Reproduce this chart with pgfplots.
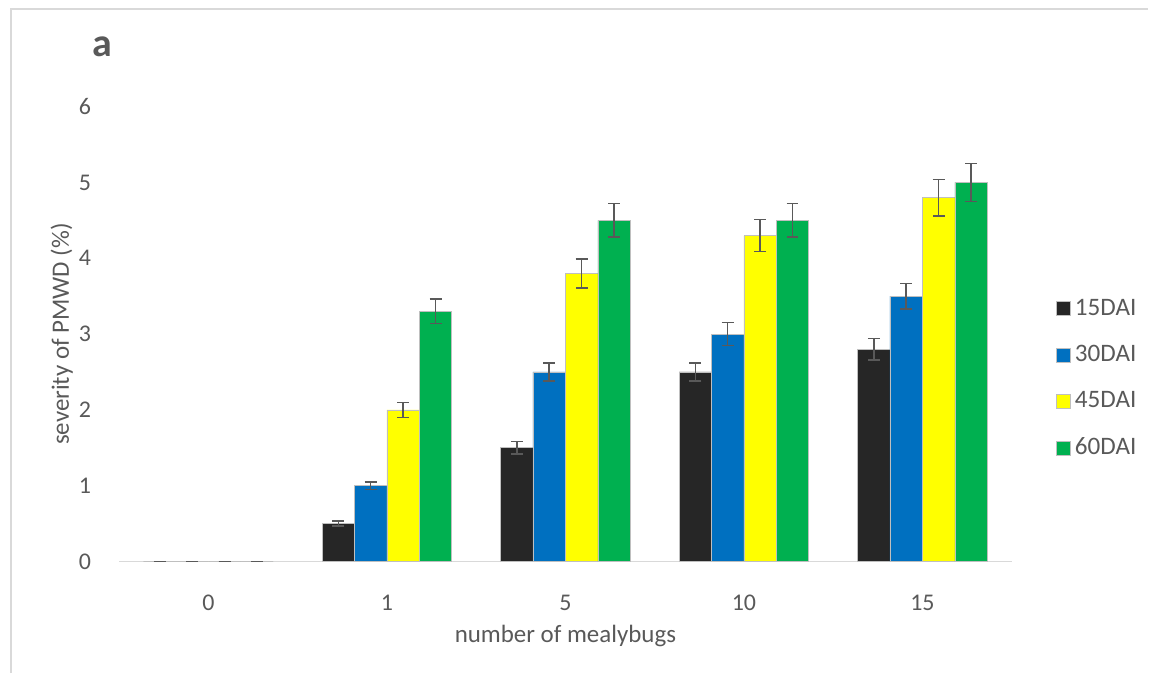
\documentclass[border=0pt]{standalone}
\usepackage{fontspec}
\setmainfont{Carlito}
\usepackage{pgfplots}
\pgfplotsset{compat=1.18}
\definecolor{txt}{HTML}{595959}
\definecolor{axl}{HTML}{D9D9D9}
\definecolor{cA}{HTML}{262626}
\definecolor{cB}{HTML}{0070C0}
\definecolor{cC}{HTML}{FFFF00}
\definecolor{cD}{HTML}{00B050}
\definecolor{errc}{HTML}{595959}
\begin{document}
\begin{tikzpicture}
\begin{axis}[
  name=ax,
  scale only axis,
  width=447.5pt, height=228pt,
  xmin=-0.5, xmax=4.5, ymin=0, ymax=6,
  ybar=0pt, bar width=16.25pt,
  xtick={0,1,2,3,4}, xticklabels={0,1,5,10,15},
  ytick={0,1,2,3,4,5,6},
  axis x line=bottom, axis y line=left,
  x axis line style={-, draw=axl, line width=0.75pt},
  y axis line style={draw=none},
  tick style={draw=none},
  font=\fontsize{12}{14}\selectfont,
  /pgf/number format/assume math mode=true,
  ticklabel style={text=txt, font=\fontsize{12}{14}\selectfont},
  xticklabel style={anchor=center, yshift=-18.5pt},
  yticklabel style={anchor=east, inner sep=0pt, xshift=-11.75pt},
  xlabel={number of mealybugs},
  ylabel={severity of PMWD (\%)},
  every axis x label/.style={at={(axis description cs:0.5,-0.165)}, anchor=center, text=txt, font=\fontsize{12.5}{14}\selectfont},
  every axis y label/.style={at={(axis description cs:-0.0642,0.5)}, rotate=90, anchor=center, text=txt, font=\fontsize{12.5}{14}\selectfont},
  error bars/error bar style={draw=errc, line width=0.75pt},
  error bars/error mark options={rotate=90, mark size=3pt, draw=errc, line width=0.75pt},
  legend style={at={(1.0497,0.4025)}, anchor=west, draw=none, fill=none,
    font=\fontsize{12.6}{14}\selectfont, text=txt, row sep=9.6pt, inner sep=0pt},
  legend cell align=left,
  legend image code/.code={\fill[#1] (0pt,-3.5pt) rectangle (7pt,3.5pt);},
]
\addplot+[fill=cA, draw=white!75!black, line width=0.3pt,
  error bars/.cd, y dir=both, y explicit]
  table[x=x, y=y, y error=e] {
x y e
0 0 0
1 0.5 0.03
2 1.5 0.08
3 2.5 0.12
4 2.8 0.14
};
\addplot+[fill=cB, draw=white!75!black, line width=0.3pt,
  error bars/.cd, y dir=both, y explicit]
  table[x=x, y=y, y error=e] {
x y e
0 0 0
1 1.0 0.05
2 2.5 0.12
3 3.0 0.15
4 3.5 0.17
};
\addplot+[fill=cC, draw=white!75!black, line width=0.3pt,
  error bars/.cd, y dir=both, y explicit]
  table[x=x, y=y, y error=e] {
x y e
0 0 0
1 2.0 0.10
2 3.8 0.19
3 4.3 0.21
4 4.8 0.24
};
\addplot+[fill=cD, draw=white!75!black, line width=0.3pt,
  error bars/.cd, y dir=both, y explicit]
  table[x=x, y=y, y error=e] {
x y e
0 0 0
1 3.3 0.16
2 4.5 0.22
3 4.5 0.22
4 5.0 0.25
};
\legend{15DAI,30DAI,45DAI,60DAI}
\end{axis}
\draw[axl, line width=0.75pt] ([xshift=-54.25pt,yshift=-56pt]ax.south west) -- ([xshift=-54.25pt,yshift=277pt]ax.south west) -- ([xshift=516pt,yshift=277pt]ax.south west);
\node[text=txt, font=\fontsize{20}{22}\selectfont\bfseries, anchor=center] at ([xshift=-8.25pt,yshift=258pt]ax.south west) {a};
\path[use as bounding box] ([xshift=-59.75pt,yshift=-55pt]ax.south west) rectangle ([xshift=514.75pt,yshift=281.5pt]ax.south west);
\end{tikzpicture}
\end{document}
